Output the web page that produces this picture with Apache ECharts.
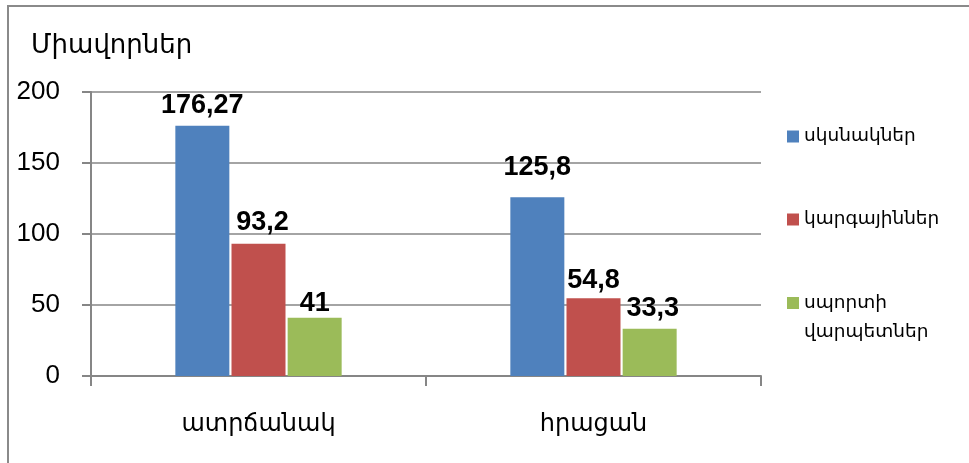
<!DOCTYPE html>
<html>
<head>
<meta charset="utf-8">
<script src="https://cdn.jsdelivr.net/npm/echarts@6/dist/echarts.min.js"></script>
<style>
html,body{margin:0;padding:0;background:#fff;}
#chart{position:absolute;left:0;top:0;width:969px;height:463px;}
#frame{position:absolute;left:7px;top:5px;right:0;bottom:0;border-left:2px solid #8a8a8a;border-top:2px solid #8a8a8a;pointer-events:none;}
</style>
</head>
<body>
<div id="chart"></div>
<div id="frame"></div>
<script>
const categories = ['ատրճանակ', 'հրացան'];
const seriesNames = ['սկսնակներ', 'կարգայիններ', 'սպորտի վարպետներ'];
const beginners = [176.27, 125.8];
const ranked = [93.2, 54.8];
const masters = [41, 33.3];
const yTicks = [0, 50, 100, 150, 200];
const yTitle = 'Միավորներ';

// layout-only tweaks of label placement [dx, dy] per series per category
const labelShift = [
  [[0, -2], [0, -11]],
  [[4, -3], [0, 1]],
  [[0, 4], [3, -2]]
];

const colors = ['#4F81BD', '#C0504D', '#9BBB59'];
const seriesData = [beginners, ranked, masters];
const armFont = '"DejaVu Sans", sans-serif';

const chart = echarts.init(document.getElementById('chart'), null, {renderer: 'canvas'});

const series = seriesData.map((vals, si) => ({
  name: seriesNames[si],
  type: 'bar',
  barWidth: 54,
  barGap: '4%',
  itemStyle: {color: colors[si]},
  data: vals.map((v, ci) => ({
    value: v,
    label: {offset: labelShift[si][ci]}
  })),
  label: {
    show: true,
    position: 'top',
    distance: 5,
    color: '#000',
    fontSize: 27,
    fontWeight: 'bold',
    fontFamily: '"Liberation Sans", Arial, sans-serif',
    formatter: p => String(p.value).replace('.', ',')
  }
}));

const legendTops = [122, 205, 259.5];
const legends = seriesNames.map((n, i) => ({
  data: [n],
  left: 787,
  top: legendTops[i],
  padding: 0,
  orient: 'vertical',
  itemWidth: 12,
  itemHeight: 12,
  icon: 'rect',
  itemGap: 0,
  selectedMode: false,
  formatter: name => {
    const parts = name.split(' ');
    return parts.length > 1 ? ' \n' + parts.join('\n') : name;
  },
  textStyle: {
    color: '#000',
    fontSize: 18.5,
    fontFamily: armFont,
    lineHeight: 29
  }
}));

chart.setOption({
  animation: false,
  backgroundColor: '#fff',
  title: {
    text: yTitle,
    left: 26,
    top: 28,
    textStyle: {color: '#000', fontSize: 26, fontWeight: 'normal', fontFamily: armFont}
  },
  legend: legends,
  grid: {left: 91, right: 208, top: 92, bottom: 87, containLabel: false},
  xAxis: {
    type: 'category',
    data: categories,
    axisLine: {lineStyle: {color: '#868686', width: 2}},
    axisTick: {show: true, length: 10, lineStyle: {color: '#868686', width: 2}},
    axisLabel: {color: '#000', fontSize: 24, fontFamily: armFont, margin: 37}
  },
  yAxis: {
    type: 'value',
    min: yTicks[0],
    max: yTicks[yTicks.length - 1],
    interval: yTicks[1] - yTicks[0],
    axisLine: {show: true, lineStyle: {color: '#868686', width: 2}},
    axisTick: {show: true, length: 9, lineStyle: {color: '#868686', width: 2}},
    splitLine: {show: true, lineStyle: {color: '#868686', width: 1.5}},
    axisLabel: {color: '#000', fontSize: 26, fontFamily: '"Liberation Sans", Arial, sans-serif', margin: 31}
  },
  series: series
});
</script>
</body>
</html>
